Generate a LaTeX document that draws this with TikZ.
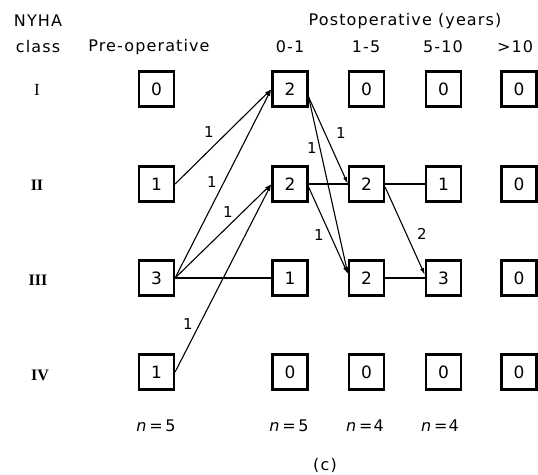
\documentclass[tikz,border=0pt]{standalone}
\usepackage{fontspec}
\setmainfont{DejaVu Sans}[LetterSpace=7]
\newfontfamily\romfont{Liberation Serif}
\usetikzlibrary{arrows.meta}
\begin{document}
\begin{tikzpicture}[x=1pt,y=-1pt,
  box/.style={draw, line width=2.2pt, minimum size=35pt, inner sep=0pt, font=\fontsize{17}{17}\selectfont},
  lbl/.style={inner sep=0pt, font=\fontsize{16}{16}\selectfont},
  rom/.style={inner sep=0pt, font=\romfont\fontsize{17}{17}\selectfont},
  romb/.style={inner sep=0pt, font=\romfont\bfseries\fontsize{16}{16}\selectfont},
  edge/.style={line width=1.1pt},
  arr/.style={edge, -{Latex[length=7pt,width=4pt]}},
  elab/.style={inner sep=0pt, font=\fontsize{15}{15}\selectfont}]
\useasboundingbox (0,0) rectangle (538,474);
% headers
\node[lbl] (hnyha) at (38,21) {NYHA};
\node[lbl] (hclass) at (38,47) {class};
\node[lbl] (hpre) at (149,47) {Pre-operative};
\node[lbl] (hpost) at (405,21) {Postoperative (years)};
\node[lbl] (h01) at (290,47) {0-1};
\node[lbl] (h15) at (366,47) {1-5};
\node[lbl] (h510) at (443,47) {5-10};
\node[lbl] (h10) at (515,47) {>10};
% row labels
\node[rom] (r1) at (37,90) {I};
\node[romb] (r2) at (37,185) {II};
\node[romb] (r3) at (38,280) {III};
\node[romb] (r4) at (40,375) {IV};
% boxes
\foreach \col/\x/\va/\vb/\vc/\vd in {p/156.5/0/1/3/1, a/290/2/2/1/0, b/366.5/0/2/2/0, c/443.5/0/1/3/0, d/519/0/0/0/0}{
  \node[box] (\col1) at (\x,89) {\va};
  \node[box] (\col2) at (\x,184) {\vb};
  \node[box] (\col3) at (\x,278) {\vc};
  \node[box] (\col4) at (\x,372) {\vd};
}
% connectors
\draw[arr] (p2.east) -- (a1.west);
\draw[arr] (p3.east) -- (a1.west);
\draw[arr] (p3.east) -- (a2.west);
\draw[edge] (p3.east) -- (a3.west);
\draw[arr] (p4.east) -- (a2.west);
\draw[arr] ([yshift=-8pt]a1.east) -- (b2.west);
\draw[arr] ([yshift=-8pt]a1.east) -- ([yshift=4pt]b3.west);
\draw[edge] (a2.east) -- (b2.west);
\draw[arr] ([yshift=-3pt]a2.east) -- ([yshift=4pt]b3.west);
\draw[edge] (b2.east) -- (c2.west);
\draw[arr] ([yshift=-3pt]b2.east) -- ([yshift=3pt]c3.west);
\draw[edge] (b3.east) -- (c3.west);
% connector labels
\node[elab] (l1) at (209,132) {1};
\node[elab] (l2) at (212,182) {1};
\node[elab] (l3) at (228,212) {1};
\node[elab] (l4) at (188,324) {1};
\node[elab] (l5) at (341,133) {1};
\node[elab] (l6) at (312,148) {1};
\node[elab] (l7) at (319,235) {1};
\node[elab] (l8) at (422,234) {2};
% sample sizes
\node[lbl] (n1) at (156,426) {\itshape n\upshape\,=\,5};
\node[lbl] (n2) at (289,426) {\itshape n\upshape\,=\,5};
\node[lbl] (n3) at (365,426) {\itshape n\upshape\,=4};
\node[lbl] (n4) at (440,426) {\itshape n\upshape\,=4};
\node[lbl] (cap) at (325,465) {(c)};
\end{tikzpicture}
\end{document}
